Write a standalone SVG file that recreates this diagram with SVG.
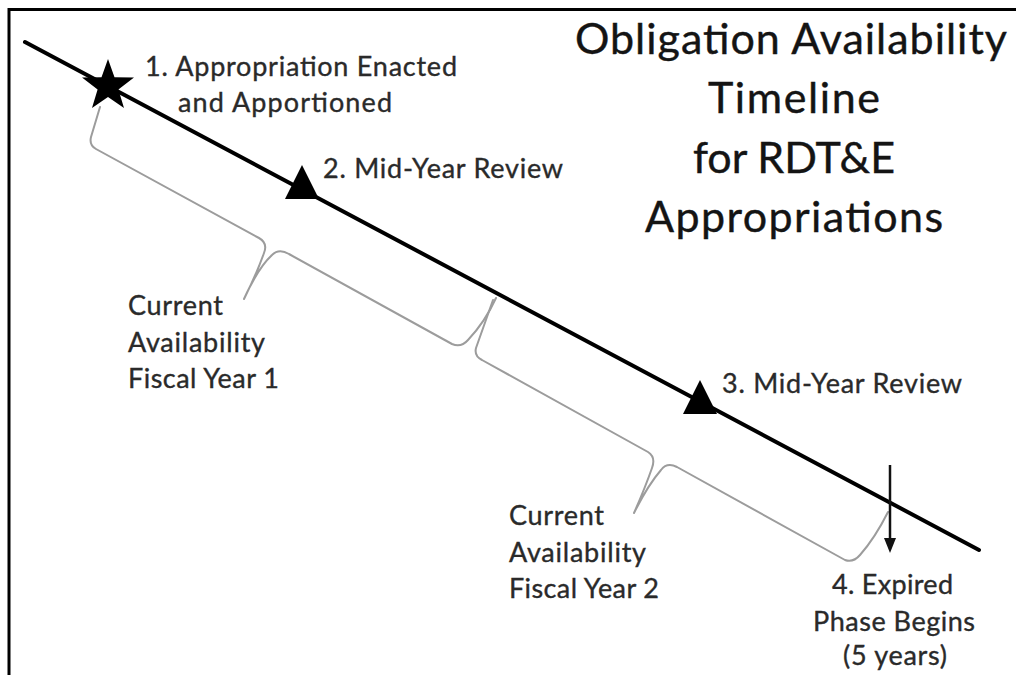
<svg xmlns="http://www.w3.org/2000/svg" width="1016" height="675" viewBox="0 0 1016 675">
<style>
.lbl{font-family:Lato,"Liberation Sans",Arial,sans-serif;font-size:27px;fill:#2a2a2a;stroke:#2a2a2a;stroke-width:0.35}
.ttl{font-family:Lato,"Liberation Sans",Arial,sans-serif;font-size:43px;fill:#141414;stroke:#141414;stroke-width:0.4;text-anchor:middle}
.brace{fill:none;stroke:#9c9c9c;stroke-width:2;stroke-linejoin:round;stroke-linecap:round}
.mark{fill:#000}
</style>
<rect width="1016" height="675" fill="#fff"/>
<g id="frame" stroke="#000" stroke-width="3" fill="none">
<line x1="8" y1="9.5" x2="1016" y2="9.5"/>
<line x1="9" y1="8" x2="9" y2="675"/>
</g>
<g id="connectors">
<line id="timeline" x1="25" y1="42" x2="979" y2="550" stroke="#000" stroke-width="4" stroke-linecap="round"/>
<path id="brace-fy1" class="brace" d="M100 107 L91 137 Q89 145 96 149 L259 238 Q268 243 264 253 Q257 273 244 299 Q258 268 272 255 Q279 248 289 254 L452 344 Q461 348 468 340 Q485 322 496 298"/>
<path id="brace-fy2" class="brace" d="M493 300 L476 348 Q474 356 482 360 L648 452 Q656 457 652 468 Q645 488 634 513 Q648 485 661 470 Q667 462 677 467 L845 560 Q853 563 860 555 Q875 538 888 512"/>
<g id="expiry-arrow">
<line x1="890" y1="465" x2="890" y2="541" stroke="#111" stroke-width="2.5"/>
<polygon points="884,538 896,538 890,553" fill="#111"/>
</g>
</g>
<g id="m1">
<polygon class="mark" points="108,59 114.5,77.2 134,77.6 118.4,89.4 124,108 108,97 92,108 97.6,89.4 82,77.6 101.5,77.2"/>
<text class="lbl" x="145" y="76" textLength="312" lengthAdjust="spacing">1. Appropriation Enacted</text>
<text class="lbl" x="178" y="112" textLength="214" lengthAdjust="spacing">and Apportioned</text>
</g>
<g id="m2">
<polygon class="mark" points="302,165 319,199 285,199"/>
<text class="lbl" x="323" y="178" textLength="240" lengthAdjust="spacing">2. Mid-Year Review</text>
</g>
<g id="m3">
<polygon class="mark" points="700,380 717,414 683,414"/>
<text class="lbl" x="722" y="393" textLength="240" lengthAdjust="spacing">3. Mid-Year Review</text>
</g>
<g id="m4">
<text class="lbl" x="832" y="594" textLength="121" lengthAdjust="spacing">4. Expired</text>
<text class="lbl" x="813" y="631" textLength="162" lengthAdjust="spacing">Phase Begins</text>
<text class="lbl" x="843" y="665" textLength="104" lengthAdjust="spacing">(5 years)</text>
</g>
<g id="fy1">
<text class="lbl" x="128" y="315" textLength="95" lengthAdjust="spacing">Current</text>
<text class="lbl" x="128" y="352" textLength="137" lengthAdjust="spacing">Availability</text>
<text class="lbl" x="128" y="388" textLength="151" lengthAdjust="spacing">Fiscal Year 1</text>
</g>
<g id="fy2">
<text class="lbl" x="509" y="525" textLength="95" lengthAdjust="spacing">Current</text>
<text class="lbl" x="509" y="562" textLength="137" lengthAdjust="spacing">Availability</text>
<text class="lbl" x="509" y="598" textLength="150" lengthAdjust="spacing">Fiscal Year 2</text>
</g>
<g id="title">
<text class="ttl" x="791" y="54" textLength="432" lengthAdjust="spacing">Obligation Availability</text>
<text class="ttl" x="794" y="113" textLength="172" lengthAdjust="spacing">Timeline</text>
<text class="ttl" x="794" y="173" textLength="202" lengthAdjust="spacing">for RDT&amp;E</text>
<text class="ttl" x="794" y="232" textLength="298" lengthAdjust="spacing">Appropriations</text>
</g>
</svg>
